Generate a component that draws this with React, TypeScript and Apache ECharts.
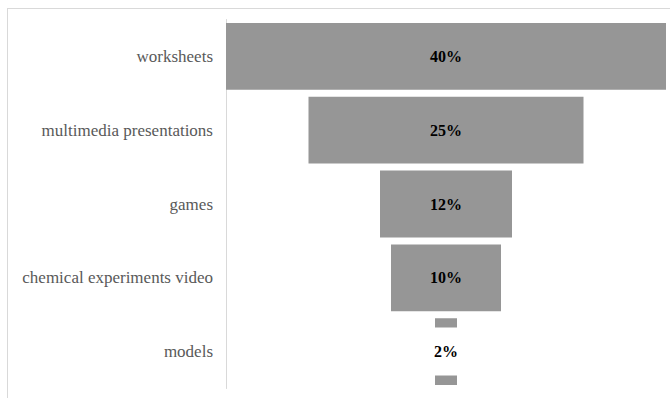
import React, { useEffect, useRef } from "react";
import * as echarts from "echarts";

const categories = [
  "worksheets",
  "multimedia presentations",
  "games",
  "chemical experiments video",
  "models",
];
const values = [40, 25, 12, 10, 2];
const maxValue = 40;

export default function App() {
  const ref = useRef<HTMLDivElement>(null);
  useEffect(() => {
    if (!ref.current) return;
    const chart = echarts.init(ref.current, null, { renderer: "svg" });
    const offsets = values.map((v) => (maxValue - v) / 2);
    chart.setOption({
      animation: false,
      backgroundColor: "#ffffff",
      grid: { left: 226, right: 4, top: 19.5, bottom: 9.5, containLabel: false },
      xAxis: {
        type: "value",
        min: 0,
        max: maxValue,
        show: false,
      },
      yAxis: {
        type: "category",
        data: categories,
        inverse: true,
        axisLine: { show: true, lineStyle: { color: "#d9d9d9", width: 1 } },
        axisTick: { show: false },
        axisLabel: {
          color: "#595959",
          fontSize: 17,
          fontFamily: "Liberation Serif",
          margin: 13,
        },
        splitLine: { show: false },
      },
      series: [
        {
          type: "bar",
          stack: "f",
          data: offsets,
          itemStyle: { color: "transparent" },
          barCategoryGap: "9.5%",
          silent: true,
        },
        {
          type: "bar",
          stack: "f",
          data: values.map((v, i) =>
            i === values.length - 1
              ? {
                  value: v,
                  label: {
                    backgroundColor: "#ffffff",
                    padding: [12, 8, 20, 8],
                  },
                }
              : v
          ),
          itemStyle: { color: "#969696" },
          barCategoryGap: "9.5%",
          label: {
            show: true,
            position: "inside",
            formatter: "{c}%",
            color: "#000000",
            fontSize: 16,
            fontWeight: "bold",
            fontFamily: "Liberation Serif",
          },
        },
      ],
      graphic: [
        {
          type: "line",
          shape: { x1: 7, y1: 8.5, x2: 670, y2: 8.5 },
          style: { stroke: "#d9d9d9", lineWidth: 1 },
        },
        {
          type: "line",
          shape: { x1: 7.5, y1: 8, x2: 7.5, y2: 398 },
          style: { stroke: "#d9d9d9", lineWidth: 1 },
        },
      ],
    });
    return () => chart.dispose();
  }, []);
  return <div ref={ref} style={{ width: 670, height: 398, position: "absolute", left: 0, top: 0 }} />;
}
